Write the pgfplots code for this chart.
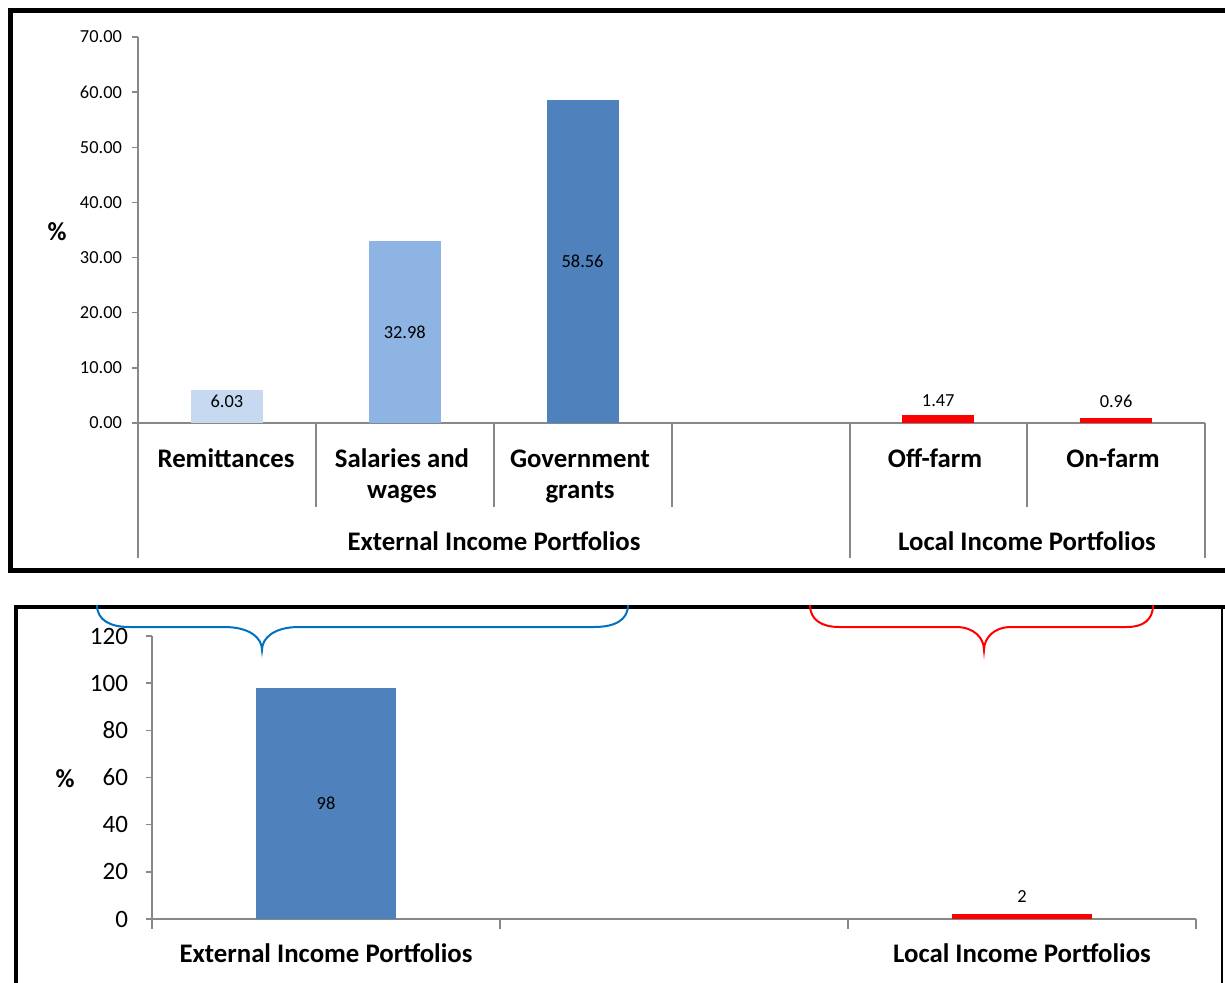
\documentclass[border=0pt]{standalone}
\usepackage{pgfplots}
\pgfplotsset{compat=1.18}
\usepackage{fontspec}
\setmainfont{Carlito}
\definecolor{c1}{HTML}{C6D9F1}
\definecolor{c2}{HTML}{8DB4E2}
\definecolor{c3}{HTML}{4F81BD}
\definecolor{axgray}{HTML}{888888}
\definecolor{bblue}{HTML}{0070C0}
\newcommand{\catfont}{\fontsize{13.4}{16}\selectfont\bfseries}
\newcommand{\valfont}{\fontsize{9.2}{11}\selectfont}
\newcommand{\pctfont}{\fontsize{13}{15}\selectfont\bfseries}
\begin{document}
\begin{tikzpicture}
\useasboundingbox (0pt,0pt) rectangle (612.5pt,-491.5pt);

% ---------- top chart ----------
\begin{axis}[
  at={(69pt,-211.5pt)}, anchor=south west,
  scale only axis, width=533.5pt, height=193pt,
  xmin=-0.5, xmax=5.5, ymin=0, ymax=70,
  axis x line*=bottom, axis y line*=left,
  axis line style={-, draw=axgray, line width=0.75pt},
  ybar, bar width=36pt,
  xtick=\empty,
  ytick={0,10,...,70},
  tick align=outside, major tick length=3pt,
  tick style={draw=axgray, line width=0.75pt},
  ytick pos=left,
  yticklabel style={font=\valfont, xshift=-1.5pt, /pgf/number format/.cd, fixed, fixed zerofill, precision=2, assume math mode=true},
  clip=false,
]
\addplot[fill=c1, draw=none, bar shift=0pt] coordinates {(0,6.03)};
\addplot[fill=c2, draw=none, bar shift=0pt] coordinates {(1,32.98)};
\addplot[fill=c3, draw=none, bar shift=0pt] coordinates {(2,58.56)};
\addplot[fill=red, draw=none, bar shift=0pt] coordinates {(4,1.47)};
\addplot[fill=red, draw=none, bar shift=0pt] coordinates {(5,0.96)};
\node[font=\valfont, inner sep=0pt] at (axis cs:0,4) {6.03};
\node[font=\valfont, inner sep=0pt] at (axis cs:1,16.49) {32.98};
\node[font=\valfont, inner sep=0pt] at (axis cs:2,29.28) {58.56};
\node[font=\valfont, inner sep=0pt, anchor=south, yshift=4pt] at (axis cs:4,1.47) {1.47};
\node[font=\valfont, inner sep=0pt, anchor=south, yshift=5pt] at (axis cs:5,0.96) {0.96};
\end{axis}

% ---------- bottom chart ----------
\begin{axis}[
  at={(76pt,-459.5pt)}, anchor=south west,
  scale only axis, width=522pt, height=141.5pt,
  xmin=-0.5, xmax=2.5, ymin=0, ymax=120,
  axis x line*=bottom, axis y line*=left,
  axis line style={-, draw=axgray, line width=0.75pt},
  ybar, bar width=70pt,
  xtick=\empty,
  ytick={0,20,...,120},
  tick align=outside, major tick length=3pt,
  tick style={draw=axgray, line width=0.75pt},
  ytick pos=left,
  yticklabel style={font=\fontsize{12.5}{14}\selectfont, xshift=-5.5pt, /pgf/number format/assume math mode=true},
  clip=false,
]
\addplot[fill=c3, draw=none, bar shift=0pt] coordinates {(0,98)};
\addplot[fill=red, draw=none, bar shift=0pt] coordinates {(2,2)};
\node[font=\valfont, inner sep=0pt] at (axis cs:0,49) {98};
\node[font=\valfont, inner sep=0pt, anchor=south, yshift=5.75pt] at (axis cs:2,2) {2};
\end{axis}

\begin{scope}[x=0.5pt,y=-0.5pt]
\begin{scope}
\clip (0,0) rectangle (1225,983);
\draw[line width=2.5pt] (1240,10.5) -- (10,10.5) -- (10,570) -- (1240,570);
\draw[line width=2.2pt] (16,1000) -- (16,607) -- (1240,607);
\draw[line width=1pt] (1222,607) -- (1222,1000);
\end{scope}

\foreach \x in {316,494,672,1027} \draw[axgray, line width=0.75pt] (\x,423) -- (\x,507);
\foreach \x in {138,850,1205} \draw[axgray, line width=0.75pt] (\x,423) -- (\x,558);

\node[font=\catfont, anchor=base, inner sep=0pt] at (226,467) {Remittances};
\node[font=\catfont, anchor=base, inner sep=0pt] at (402,467) {Salaries and};
\node[font=\catfont, anchor=base, inner sep=0pt] at (402,499) {wages};
\node[font=\catfont, anchor=base, inner sep=0pt] at (580,467) {Government};
\node[font=\catfont, anchor=base, inner sep=0pt] at (580,499) {grants};
\node[font=\catfont, anchor=base, inner sep=0pt] at (935,467) {Off-farm};
\node[font=\catfont, anchor=base, inner sep=0pt] at (1113,467) {On-farm};
\node[font=\catfont, anchor=base, inner sep=0pt] at (494,550) {External Income Portfolios};
\node[font=\catfont, anchor=base, inner sep=0pt] at (1027,550) {Local Income Portfolios};
\node[font=\pctfont, anchor=base, inner sep=0pt] at (57,241) {\%};

\foreach \x in {152,500,848,1196} \draw[axgray, line width=0.75pt] (\x,919) -- (\x,929);
\node[font=\catfont, anchor=base, inner sep=0pt] at (326,962) {External Income Portfolios};
\node[font=\catfont, anchor=base, inner sep=0pt] at (1022,962) {Local Income Portfolios};
\node[font=\pctfont, anchor=base, inner sep=0pt] at (65,787) {\%};

% braces
\draw[bblue, line width=1pt] (97,605) .. controls (97,620) and (110,627) .. (129,627) -- (224,627)
  .. controls (250,627) and (262,638) .. (262,650)
  .. controls (262,638) and (274,627) .. (299,627) -- (594,627)
  .. controls (615,627) and (628,620) .. (628,605);
\draw[red, line width=1pt] (810,605) .. controls (810,620) and (822,627) .. (839,627) -- (956,627)
  .. controls (974,627) and (984,638) .. (984,650)
  .. controls (984,638) and (994,627) .. (1011,627) -- (1127,627)
  .. controls (1143,627) and (1153,620) .. (1153,605);
\end{scope}
\end{tikzpicture}
\end{document}
